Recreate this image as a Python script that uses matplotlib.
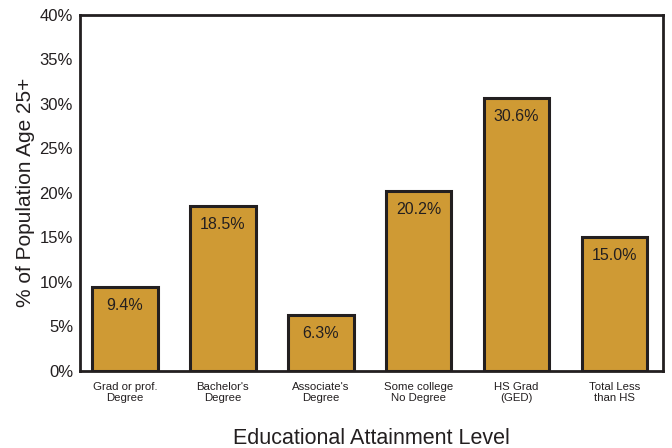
import matplotlib.pyplot as plt
from matplotlib.ticker import FuncFormatter

categories = ["Grad or prof.\nDegree", "Bachelor's\nDegree", "Associate's\nDegree",
              "Some college\nNo Degree", "HS Grad\n(GED)", "Total Less\nthan HS"]
values = [9.4, 18.5, 6.3, 20.2, 30.6, 15.0]
yticks = [0, 5, 10, 15, 20, 25, 30, 35, 40]

plt.rcParams['font.family'] = ['Liberation Sans Narrow', 'Liberation Sans', 'DejaVu Sans']

fig = plt.figure(figsize=(6.72, 4.48), dpi=100)
ax = fig.add_axes([0.119, 0.172, 0.868, 0.795])

x = range(len(values))
ax.bar(x, values, width=0.67, color='#CF9A34', edgecolor='#231F20', linewidth=2.2, zorder=2)

for i, v in enumerate(values):
    ax.text(i, v - 1.2, f"{v:.1f}%", ha='center', va='top', fontsize=11.5, color='#231F20')

ax.set_xlim(-0.46, 5.5)
ax.set_ylim(0, 40)
ax.set_yticks(yticks)
ax.yaxis.set_major_formatter(FuncFormatter(lambda v, p: f"{v:.0f}%"))
ax.set_xticks(list(x))
ax.set_xticklabels(categories, fontsize=8.2, linespacing=1.1)
ax.tick_params(axis='both', length=0, colors='#231F20')
ax.tick_params(axis='y', labelsize=12, pad=5)
ax.tick_params(axis='x', pad=8)

for s in ax.spines.values():
    s.set_linewidth(2)
    s.set_color('#231F20')

ax.set_ylabel("% of Population Age 25+", fontsize=15, color='#231F20', labelpad=3)
ax.set_xlabel("Educational Attainment Level", fontsize=15.5, color='#231F20', labelpad=18)

fig.savefig("out.png", dpi=100)
